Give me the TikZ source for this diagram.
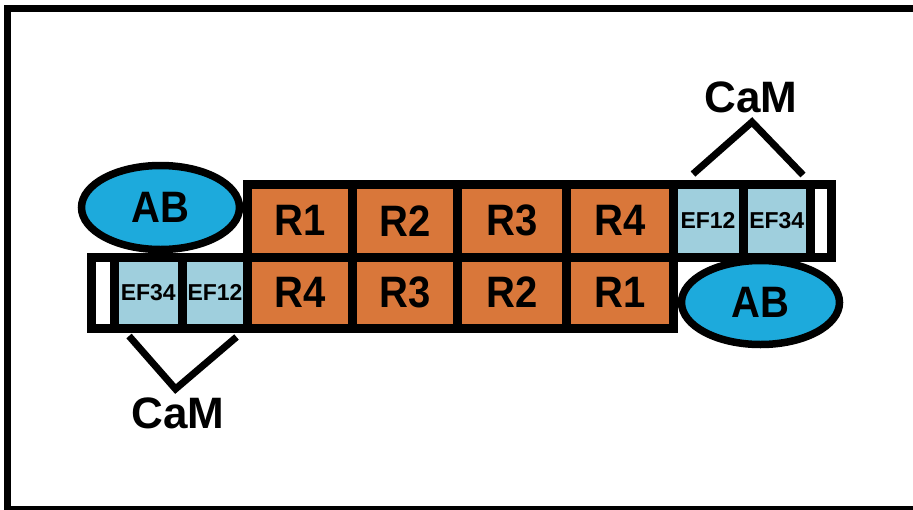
\documentclass[tikz,border=0pt]{standalone}
\usepackage{fontspec}
\setmainfont{Liberation Sans}
\usetikzlibrary{shapes.geometric}
\definecolor{domorange}{HTML}{D9773A}
\definecolor{efblue}{HTML}{9FCFDD}
\definecolor{abblue}{HTML}{1DAADC}
% labels are set slightly taller than the font's natural shape
\newcommand{\tallbox}[1]{\scalebox{1}[1.1]{#1}}
\begin{document}
\begin{tikzpicture}[x=1pt,y=-1pt,
  cell/.style={draw=black, line width=9pt, inner sep=0pt, outer sep=0pt,
    font=\fontsize{40}{40}\selectfont\bfseries},
  rcell/.style={cell, fill=domorange},
  efcell/.style={cell, fill=efblue, font=\fontsize{23}{23}\selectfont\bfseries},
  blankcell/.style={cell, fill=white},
  abnode/.style={ellipse, draw=black, line width=7.5pt, fill=abblue, inner sep=0pt,
    minimum width=158pt, minimum height=84pt, font=\fontsize{40}{40}\selectfont\bfseries},
  camlabel/.style={inner sep=0pt, font=\fontsize{44}{44}\selectfont\bfseries},
  camline/.style={draw=black, line width=7pt, line join=miter}
]
\useasboundingbox (0,0) rectangle (913,509);
\clip (0,0) rectangle (913,509);
% outer frame
\draw[line width=7pt] (7.5,8.5) rectangle (930,509.5);

% upper strand
\node[rcell, minimum width=105.5pt, minimum height=72.5pt] (tR1) at (299.75,220.75) {\tallbox{R1}};
\node[rcell, minimum width=104.5pt, minimum height=72.5pt] (tR2) at (404.75,220.75) {\tallbox{R2}};
\node[rcell, minimum width=109.5pt, minimum height=72.5pt] (tR3) at (511.75,220.75) {\tallbox{R3}};
\node[rcell, minimum width=106.5pt, minimum height=72.5pt] (tR4) at (619.75,220.75) {\tallbox{R4}};
\node[efcell, minimum width=70pt, minimum height=72.5pt] (tEF12) at (708,220.75) {EF12};
\node[efcell, minimum width=67.5pt, minimum height=72.5pt] (tEF34) at (776.75,220.75) {EF34};
\node[blankcell, minimum width=20.5pt, minimum height=72.5pt] (tEnd) at (820.75,220.75) {};

% lower strand
\node[blankcell, minimum width=23pt, minimum height=71pt] (bEnd) at (102.5,292.5) {};
\node[efcell, minimum width=68.5pt, minimum height=71pt] (bEF34) at (148.25,292.5) {EF34};
\node[efcell, minimum width=65pt, minimum height=71pt] (bEF12) at (215,292.5) {EF12};
\node[rcell, minimum width=105.5pt, minimum height=71pt] (bR4) at (299.75,292.5) {\tallbox{R4}};
\node[rcell, minimum width=104.5pt, minimum height=71pt] (bR3) at (404.75,292.5) {\tallbox{R3}};
\node[rcell, minimum width=109.5pt, minimum height=71pt] (bR2) at (511.75,292.5) {\tallbox{R2}};
\node[rcell, minimum width=106.5pt, minimum height=71pt] (bR1) at (619.75,292.5) {\tallbox{R1}};

% actin-binding domains
\node[abnode] (abLeft) at (160.5,207.5) {\tallbox{AB}};
\node[abnode] (abRight) at (760.5,302.5) {\tallbox{AB}};

% calmodulin labels and their binding lines
\node[camlabel] (camTop) at (751,97) {CaM};
\node[camlabel] (camBottom) at (178,413) {CaM};

\coordinate (topApex) at (752,122);
\coordinate (topLeftEnd) at (693,174);
\coordinate (topRightEnd) at (803,175);
\draw[camline] (topLeftEnd) -- (topApex) -- (topRightEnd);

\coordinate (botApex) at (175.5,389);
\coordinate (botLeftEnd) at (129,336);
\coordinate (botRightEnd) at (236.5,337);
\draw[camline] (botLeftEnd) -- (botApex) -- (botRightEnd);
\end{tikzpicture}
\end{document}
